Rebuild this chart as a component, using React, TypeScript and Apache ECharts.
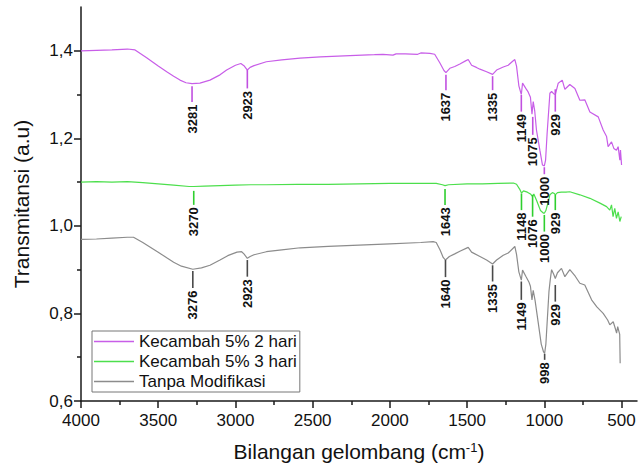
import React, { useEffect, useRef } from 'react';
import * as echarts from 'echarts';

const FONT = 'Liberation Sans';

const seriesNames = ['Kecambah 5% 2 hari', 'Kecambah 5% 3 hari', 'Tanpa Modifikasi'];
const seriesColors = ['#C85EE8', '#4CDF4C', '#8C8C8C'];
const markColors = ['#C150E0', '#2FCF2F', '#4A4A4A'];

const xTicks = [500, 1000, 1500, 2000, 2500, 3000, 3500, 4000];
const xMinorTicks = [750, 1250, 1750, 2250, 2750, 3250, 3750];
const yTicks = [0.6, 0.8, 1.0, 1.2, 1.4];
const yMinorTicks = [0.7, 0.9, 1.1, 1.3];

// [wavenumber, transmittance]
const kecambah2 = [
  [4000, 1.4], [3900, 1.401], [3800, 1.402], [3700, 1.404], [3650, 1.402], [3575, 1.384], [3500, 1.365],
  [3445, 1.352], [3400, 1.342], [3359, 1.333], [3320, 1.327], [3281, 1.325], [3230, 1.326], [3165, 1.333],
  [3100, 1.345], [3057, 1.356], [3000, 1.367], [2965, 1.371], [2945, 1.366], [2923, 1.356], [2905, 1.362],
  [2880, 1.366], [2800, 1.375], [2700, 1.379], [2582, 1.383], [2450, 1.386], [2259, 1.389], [2100, 1.391],
  [2045, 1.392], [1980, 1.390], [1960, 1.393], [1900, 1.393], [1820, 1.392], [1800, 1.395], [1741, 1.394],
  [1710, 1.392], [1676, 1.372], [1650, 1.355], [1637, 1.35], [1612, 1.36], [1580, 1.364], [1547, 1.37],
  [1510, 1.377], [1493, 1.38], [1471, 1.367], [1440, 1.362], [1417, 1.358], [1374, 1.352], [1335, 1.346],
  [1309, 1.356], [1266, 1.363], [1234, 1.367], [1205, 1.376], [1191, 1.38], [1180, 1.365], [1165, 1.32],
  [1149, 1.3], [1141, 1.326], [1120, 1.314], [1105, 1.306], [1090, 1.294], [1080, 1.255], [1072, 1.284],
  [1062, 1.262], [1051, 1.219], [1029, 1.173], [1012, 1.139], [1000, 1.137], [992, 1.15], [982, 1.211],
  [964, 1.303], [953, 1.307], [940, 1.302], [929, 1.3], [910, 1.326], [884, 1.333], [867, 1.312],
  [835, 1.323], [802, 1.314], [770, 1.287], [738, 1.288], [705, 1.26], [651, 1.249], [619, 1.219],
  [597, 1.204], [587, 1.181], [565, 1.192], [550, 1.177], [533, 1.173], [522, 1.181], [511, 1.15],
  [507, 1.173], [500, 1.139],
];

const kecambah3 = [
  [4000, 1.1], [3900, 1.101], [3800, 1.1], [3700, 1.101], [3600, 1.099], [3500, 1.096], [3400, 1.093],
  [3300, 1.09], [3270, 1.09], [3200, 1.091], [3100, 1.092], [3000, 1.093], [2900, 1.094], [2800, 1.094],
  [2600, 1.095], [2400, 1.095], [2200, 1.096], [2000, 1.097], [1800, 1.097], [1700, 1.097], [1660, 1.094],
  [1643, 1.092], [1620, 1.094], [1500, 1.096], [1400, 1.096], [1300, 1.097], [1200, 1.098], [1180, 1.095],
  [1160, 1.084], [1148, 1.075], [1135, 1.08], [1110, 1.077], [1090, 1.073], [1076, 1.067], [1068, 1.073],
  [1050, 1.058], [1025, 1.035], [1005, 1.029], [1000, 1.029], [990, 1.035], [975, 1.055], [964, 1.071],
  [948, 1.076], [935, 1.074], [929, 1.071], [915, 1.076], [890, 1.077], [860, 1.077], [835, 1.078],
  [770, 1.071], [705, 1.063], [640, 1.052], [597, 1.044], [576, 1.036], [565, 1.048], [555, 1.021],
  [544, 1.04], [533, 1.017], [522, 1.032], [511, 1.01], [502, 1.021],
];

const tanpaModifikasi = [
  [4000, 0.969], [3900, 0.97], [3800, 0.972], [3700, 0.974], [3660, 0.974], [3600, 0.962], [3500, 0.94],
  [3445, 0.927], [3400, 0.917], [3350, 0.908], [3276, 0.901], [3220, 0.904], [3165, 0.91], [3100, 0.922],
  [3050, 0.932], [2990, 0.94], [2960, 0.941], [2945, 0.936], [2923, 0.926], [2905, 0.93], [2880, 0.934],
  [2800, 0.941], [2700, 0.945], [2580, 0.95], [2400, 0.953], [2200, 0.956], [2000, 0.959], [1800, 0.962],
  [1720, 0.964], [1700, 0.962], [1675, 0.945], [1655, 0.928], [1640, 0.922], [1615, 0.93], [1580, 0.936],
  [1547, 0.942], [1493, 0.951], [1471, 0.94], [1417, 0.93], [1374, 0.922], [1335, 0.913], [1309, 0.922],
  [1266, 0.933], [1234, 0.938], [1191, 0.953], [1180, 0.935], [1165, 0.895], [1149, 0.876], [1141, 0.899],
  [1120, 0.885], [1100, 0.872], [1090, 0.862], [1080, 0.831], [1072, 0.853], [1060, 0.83], [1040, 0.78],
  [1020, 0.73], [1005, 0.712], [998, 0.709], [990, 0.73], [980, 0.79], [970, 0.85], [962, 0.876],
  [953, 0.9], [940, 0.89], [929, 0.88], [915, 0.893], [889, 0.903], [867, 0.884], [835, 0.9], [800, 0.885],
  [770, 0.869], [738, 0.865], [694, 0.831], [660, 0.815], [619, 0.8], [590, 0.785], [576, 0.774],
  [554, 0.781], [540, 0.765], [532, 0.755], [525, 0.77], [518, 0.76], [512, 0.752], [509, 0.686],
];

// peak annotations: [wavenumber, line start, line end]
const peaks2 = [
  [3281, 1.319, 1.283], [2923, 1.356, 1.314], [1637, 1.345, 1.31], [1335, 1.342, 1.31],
  [1149, 1.299, 1.261], [1075, 1.249, 1.208], [1000, 1.134, 1.118], [929, 1.312, 1.261],
];
const peaks3 = [
  [3270, 1.08, 1.048], [1643, 1.084, 1.048], [1148, 1.074, 1.036], [1076, 1.071, 1.021],
  [1000, 1.025, 0.987], [929, 1.071, 1.036],
];
const peaksTanpa = [
  [3276, 0.897, 0.858], [2923, 0.922, 0.884], [1640, 0.922, 0.883], [1335, 0.91, 0.873],
  [1149, 0.873, 0.831], [929, 0.865, 0.827], [998, 0.708, 0.694],
];

const spectra = [kecambah2, kecambah3, tanpaModifikasi];
const peakSets = [peaks2, peaks3, peaksTanpa];

const fmtY = (v: number) => v.toFixed(1).replace('.', ',');
const fmtX = (v: number) => String(Math.round(v));

export default function App() {
  const ref = useRef<HTMLDivElement>(null);
  useEffect(() => {
    if (!ref.current) return;
    const chart = echarts.init(ref.current, undefined, { renderer: 'svg' });
    const axisLine = { show: true, lineStyle: { color: '#1a1a1a', width: 1.5 } };
    const makeAnnot = (i: number) => ({
      type: 'custom',
      name: 'peaks' + i,
      coordinateSystem: 'cartesian2d',
      xAxisIndex: 0,
      yAxisIndex: 0,
      silent: true,
      z: 5,
      encode: { x: 0, y: [1, 2] },
      data: peakSets[i],
      renderItem: (params: any, api: any) => {
        const w = api.value(0);
        const p1 = api.coord([w, api.value(1)]);
        const p2 = api.coord([w, api.value(2)]);
        return {
          type: 'group',
          children: [
            {
              type: 'line',
              shape: { x1: p1[0], y1: p1[1], x2: p2[0], y2: p2[1] },
              style: { stroke: markColors[i], lineWidth: 1.6 },
            },
            {
              type: 'text',
              x: p2[0],
              y: p2[1] + 2.5,
              rotation: Math.PI / 2,
              style: {
                text: String(w),
                fill: '#111',
                fontSize: 13,
                fontWeight: 'bold',
                fontFamily: FONT,
                align: 'right',
                verticalAlign: 'middle',
              },
            },
          ],
        };
      },
    });
    chart.setOption({
      animation: false,
      backgroundColor: '#ffffff',
      textStyle: { fontFamily: FONT },
      grid: { left: 81, right: 2, top: 7, bottom: 69, containLabel: false },
      legend: {
        data: seriesNames,
        orient: 'vertical',
        left: 92,
        top: 331,
        icon: 'rect',
        itemWidth: 40,
        itemHeight: 1.5,
        itemGap: 3,
        padding: [2, 3, 2, 2],
        borderColor: '#777',
        borderWidth: 1,
        backgroundColor: '#fff',
        textStyle: { fontSize: 17, color: '#111', fontFamily: FONT },
      },
      xAxis: [
        {
          type: 'value',
          inverse: true,
          min: 400,
          max: 4000,
          position: 'bottom',
          axisLine,
          splitLine: { show: false },
          axisTick: { show: true, customValues: xTicks, length: 7, inside: false, lineStyle: { color: '#1a1a1a', width: 1.5 } },
          axisLabel: { customValues: xTicks, formatter: fmtX, fontSize: 17, color: '#111', margin: 11, fontFamily: FONT },
          name: 'Bilangan gelombang (cm{sup|-1})',
          nameLocation: 'middle',
          nameGap: 40,
          nameTextStyle: {
            fontSize: 21,
            color: '#111',
            fontFamily: FONT,
            rich: { sup: { fontSize: 13, verticalAlign: 'top', color: '#111', fontFamily: FONT } },
          },
        },
        {
          type: 'value',
          inverse: true,
          min: 400,
          max: 4000,
          position: 'bottom',
          axisLine: { show: false },
          splitLine: { show: false },
          axisLabel: { show: false },
          axisTick: { show: true, customValues: xMinorTicks, length: 4, lineStyle: { color: '#1a1a1a', width: 1.5 } },
        },
      ],
      yAxis: [
        {
          type: 'value',
          min: 0.6,
          max: 1.5,
          position: 'left',
          axisLine,
          splitLine: { show: false },
          axisTick: { show: true, customValues: yTicks, length: 7, lineStyle: { color: '#1a1a1a', width: 1.5 } },
          axisLabel: { customValues: yTicks, fontSize: 17, color: '#111', margin: 8, formatter: fmtY, fontFamily: FONT },
          name: 'Transmitansi (a.u)',
          nameLocation: 'middle',
          nameGap: 49,
          nameTextStyle: { fontSize: 21, color: '#111', fontFamily: FONT },
        },
        {
          type: 'value',
          min: 0.6,
          max: 1.5,
          position: 'left',
          axisLine: { show: false },
          splitLine: { show: false },
          axisLabel: { show: false },
          axisTick: { show: true, customValues: yMinorTicks, length: 4, lineStyle: { color: '#1a1a1a', width: 1.5 } },
        },
      ],
      series: [
        ...spectra.map((d, i) => ({
          type: 'line',
          name: seriesNames[i],
          data: d,
          xAxisIndex: 0,
          yAxisIndex: 0,
          symbol: 'none',
          showSymbol: false,
          lineStyle: { color: seriesColors[i], width: 1.2 },
          itemStyle: { color: seriesColors[i] },
          z: 3,
        })),
        ...peakSets.map((_, i) => makeAnnot(i)),
      ],
    } as any);
    return () => chart.dispose();
  }, []);
  return (
    <div
      ref={ref}
      style={{ position: 'fixed', left: 0, top: 0, width: 639, height: 470, background: '#fff' }}
    />
  );
}
